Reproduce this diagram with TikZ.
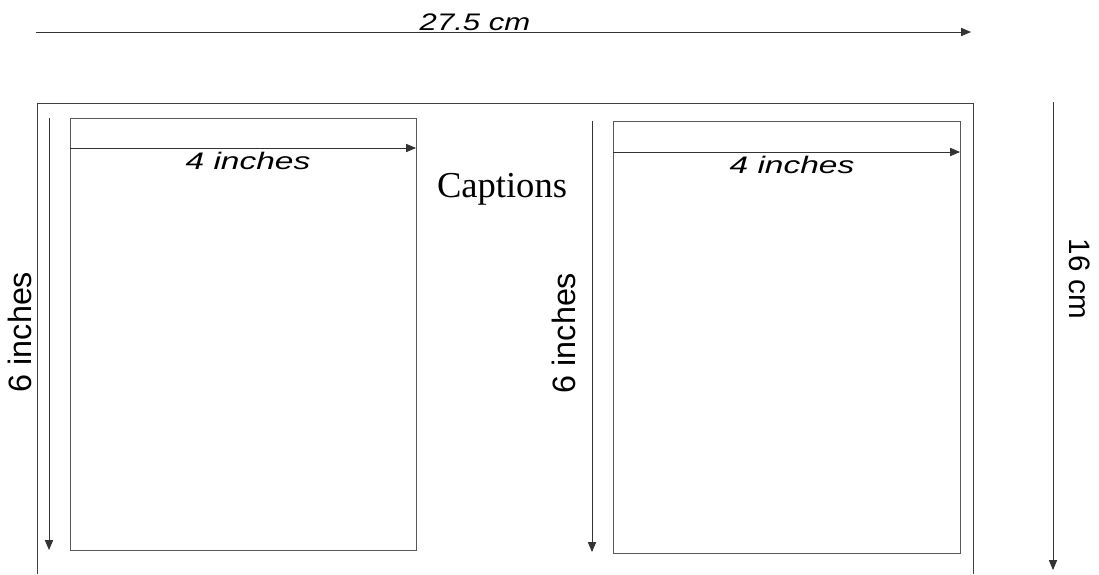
\documentclass[tikz,border=0pt]{standalone}
\usepackage{fontspec}
\usepackage{graphicx}
\setmainfont{Liberation Serif}
\newfontfamily\dimfont{Liberation Sans}
\usetikzlibrary{arrows}

\tikzset{
  frame/.style={draw=black!75, line width=0.7pt},
  paper/.style={draw=black!65, line width=0.7pt},
  dimline/.style={draw=black!80, line width=0.6pt, -triangle 45},
  wide/.style={font=\dimfont\fontsize{17}{20}\selectfont\itshape, inner sep=0pt},
  tall/.style={font=\dimfont\fontsize{23}{26}\selectfont, inner sep=0pt}
}
\newcommand{\stretched}[1]{\scalebox{1.4}[1]{#1}}

\begin{document}
\begin{tikzpicture}[x=0.025cm,y=-0.025cm]
\useasboundingbox (0,0) rectangle (1099,574);

% overall width
\draw (36,32)  coordinate (wa);
\draw (971,32) coordinate (wb);
\draw[dimline] (wa) -- (wb);
\draw (475,30) node (wlab) [wide, anchor=base, font=\dimfont\fontsize{17}{20}\selectfont\itshape] {\scalebox{1.3}[1]{27.5 cm}};

% outer frame, open at the bottom
\draw[frame] (37,574) -- (37,103) -- (973,103) -- (973,574);

% left page
\draw[paper] (70,118) rectangle (416,550);
\draw (70,148)  coordinate (la);
\draw (416,148) coordinate (lb);
\draw[dimline] (la) -- (lb);
\draw (248,169) node (llab) [wide, anchor=base] {\stretched{4 inches}};

\draw (49,118) coordinate (lt);
\draw (49,550) coordinate (lu);
\draw[dimline] (lt) -- (lu);
\draw (20,332) node (lhgt) [tall, rotate=90] {6 inches};

% caption between the pages
\draw (502,197) node (cap) [anchor=base, inner sep=0pt, font=\fontsize{26}{30}\selectfont] {Captions};

% right page
\draw[paper] (613,121) rectangle (960,553);
\draw (613,152) coordinate (ra);
\draw (960,152) coordinate (rb);
\draw[dimline] (ra) -- (rb);
\draw (792,173) node (rlab) [wide, anchor=base] {\stretched{4 inches}};

\draw (592,121) coordinate (rt);
\draw (592,552) coordinate (ru);
\draw[dimline] (rt) -- (ru);
\draw (564,333) node (rhgt) [tall, rotate=90] {6 inches};

% overall height
\draw (1053,102) coordinate (ha);
\draw (1053,570) coordinate (hb);
\draw[dimline] (ha) -- (hb);
\draw (1080,279) node (hlab) [tall, rotate=-90, font=\dimfont\fontsize{21}{24}\selectfont] {16 cm};
\end{tikzpicture}
\end{document}
